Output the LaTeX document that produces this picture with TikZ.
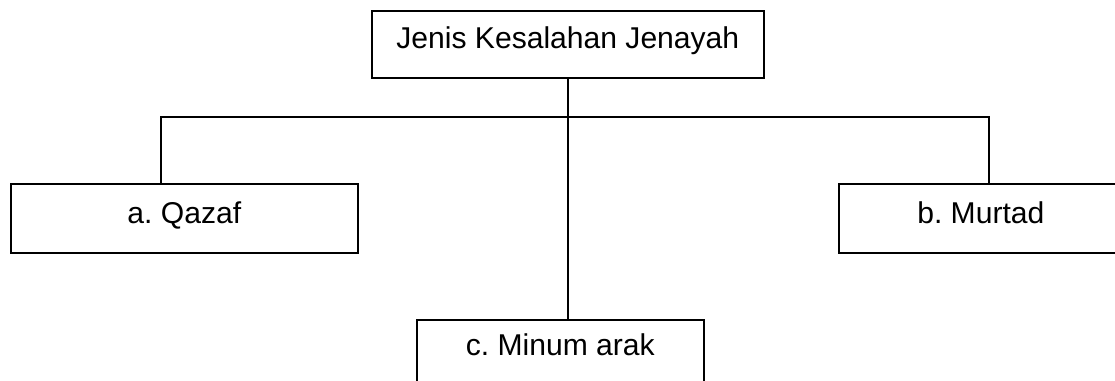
\documentclass[tikz,border=0pt]{standalone}
\usepackage{fontspec}
\setmainfont{Liberation Sans}
\usepackage{tikz}
\definecolor{line}{HTML}{000000}
\frenchspacing
\tikzset{
  kotak/.style={draw=line, line width=1.2pt, inner sep=0pt, anchor=north west,
    text height=0.98cm, text depth=0.745cm,
    font=\fontsize{21.4}{25}\selectfont},
}

\begin{document}
\begin{tikzpicture}
\useasboundingbox (0,0) rectangle (27.875,9.525);
\node[kotak, minimum width=9.8cm, text height=0.95cm, text depth=0.725cm] (jenis) at (9.275,9.275) {Jenis Kesalahan Jenayah};
\node[kotak, minimum width=8.675cm] (qazaf) at (0.25,4.95) {a. Qazaf};
\node[kotak, minimum width=7.1cm] (murtad) at (20.95,4.95) {b. Murtad};
\node[kotak, minimum width=7.175cm, text height=0.9cm] (arak) at (10.4,1.55) {c. Minum arak};
% branch bar
\coordinate (barL) at (4.025,6.6);
\coordinate (barR) at (24.725,6.6);
\draw[line, line width=1.2pt] (jenis.south) -- (jenis.south |- arak.north);
\draw[line, line width=1.2pt] (qazaf.north -| barL) -- (barL) -- (barR) -- (murtad.north -| barR);
\end{tikzpicture}
\end{document}
